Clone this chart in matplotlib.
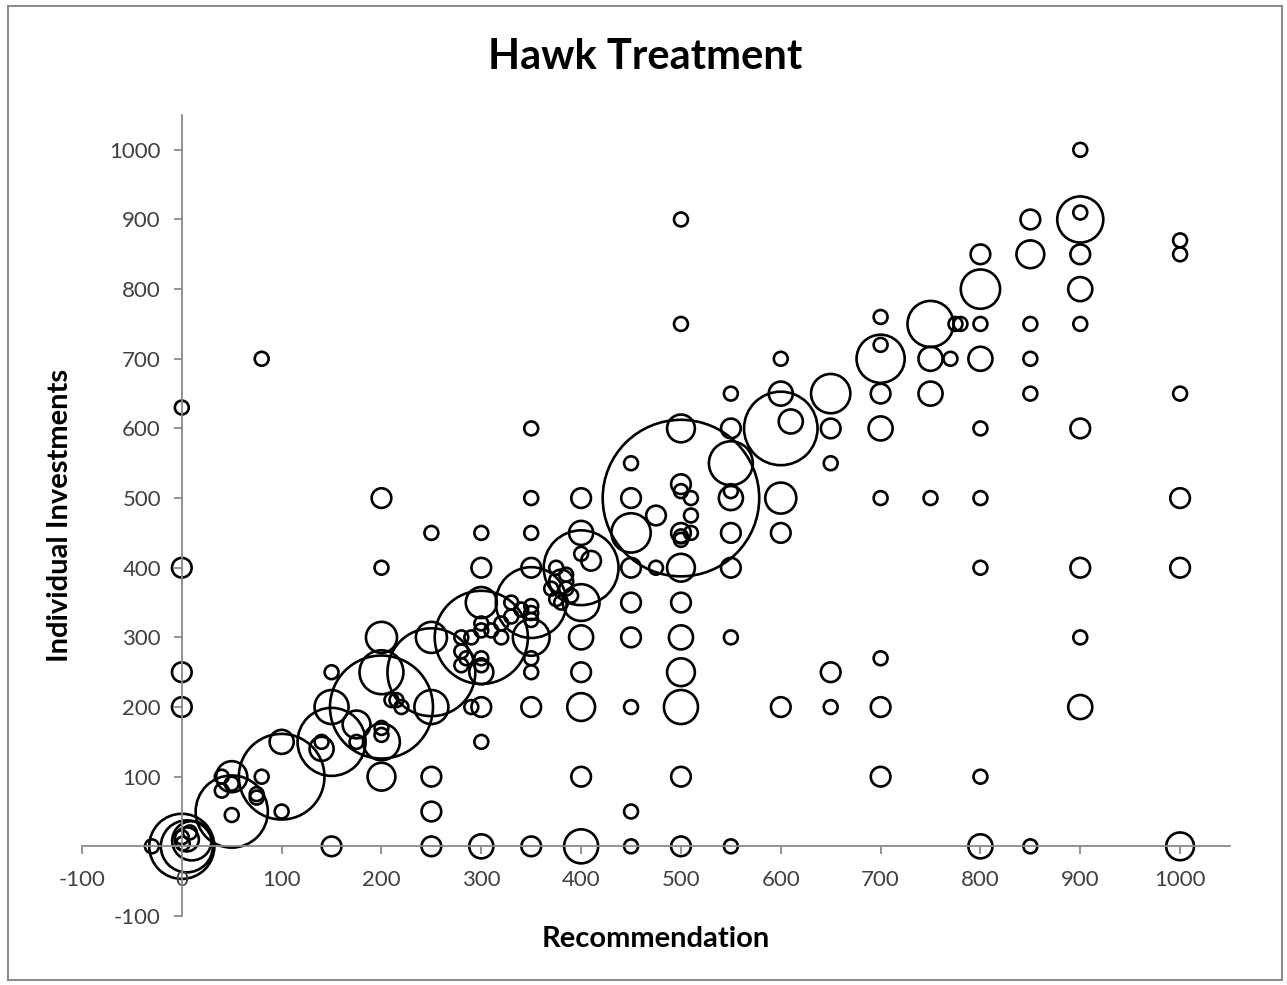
import matplotlib
matplotlib.use("Agg")
import matplotlib.pyplot as plt
from matplotlib.patches import Rectangle

# bubble data: recommendation (x), individual investment (y), bubble size (count)
recommendation = [
    -30,
    0, 0, 0, 0, 0, 5, 10, 8, 0, 1, 5,
    40, 40, 50, 50, 50, 50, 80, 75, 75, 100, 100, 100, 80,
    150, 140, 140, 150, 150, 150, 175, 175, 200, 200, 200, 200, 200, 200, 200, 200, 200, 210, 215, 220, 250,
    250, 250, 250, 250, 250, 250,
    280, 290, 280, 280, 285, 300, 300, 300, 300, 300, 300, 300, 300, 300, 290, 300, 300, 300,
    310, 320, 330, 330, 340, 320,
    350, 350, 350, 350, 350, 350, 350, 350, 350, 350, 350, 350, 350,
    380, 375, 370, 385, 380, 375, 390, 385,
    400, 400, 400, 410, 400, 400, 400, 400, 400, 400, 400,
    450, 450, 450, 450, 450, 450, 450, 450, 450, 475, 475,
    500, 500, 500, 500, 500, 510, 510, 500, 500, 510, 500, 500, 500, 500, 500, 500, 500, 500, 500,
    550, 550, 550, 550, 550, 550, 550, 550, 550,
    600, 600, 610, 600, 600, 600, 600,
    650, 650, 650, 650, 650,
    700, 700, 700, 700, 700, 700, 700, 700, 700,
    750, 775, 780, 750, 770, 750, 750,
    800, 800, 800, 800, 800, 800, 800, 800, 800,
    850, 850, 850, 850, 850, 850,
    900, 900, 900, 900, 900, 900, 900, 900, 900, 900,
    1000, 1000, 1000, 1000, 1000, 1000,
]
investment = [
    0,
    630, 400, 250, 200, 0, 0, 8, 20, 13, 4, 10,
    100, 80, 100, 90, 45, 50, 100, 75, 70, 50, 100, 150, 700,
    150, 150, 140, 200, 250, 0, 175, 150, 160, 170, 150, 100, 200, 250, 300, 400, 500, 210, 210, 200, 200,
    450, 300, 250, 100, 50, 0,
    300, 300, 280, 260, 270, 450, 400, 350, 320, 310, 300, 270, 260, 250, 200, 200, 150, 0,
    310, 320, 350, 330, 340, 300,
    600, 500, 450, 400, 350, 300, 345, 335, 325, 270, 250, 200, 0,
    380, 400, 370, 390, 350, 355, 360, 370,
    500, 450, 420, 410, 400, 350, 300, 250, 200, 100, 0,
    550, 500, 450, 400, 350, 300, 200, 50, 0, 475, 400,
    900, 750, 600, 520, 510, 500, 475, 450, 445, 450, 440, 500, 400, 350, 300, 250, 200, 100, 0,
    650, 600, 550, 500, 510, 450, 400, 300, 0,
    700, 650, 610, 600, 500, 450, 200,
    650, 600, 550, 250, 200,
    760, 720, 700, 650, 600, 500, 270, 200, 100,
    750, 750, 750, 700, 700, 650, 500,
    850, 800, 750, 700, 600, 500, 400, 100, 0,
    900, 850, 750, 700, 650, 0,
    1000, 910, 900, 850, 800, 750, 600, 400, 300, 200,
    870, 850, 650, 500, 400, 0,
]
bubble_size = [
    1,
    1, 2, 2, 2, 22, 14, 8, 1, 1, 1, 3,
    1, 1, 5, 1, 1, 27, 1, 1, 1, 1, 38, 3, 1,
    24, 1, 3, 6, 1, 2, 4, 1, 1, 1, 7, 4, 55, 10, 5, 1, 2, 1, 1, 1, 6,
    1, 5, 40, 2, 2, 2,
    1, 1, 1, 1, 1, 1, 2, 5, 1, 1, 45, 1, 1, 3, 1, 2, 1, 3,
    1, 1, 1, 1, 1, 1,
    1, 1, 1, 2, 26, 7, 1, 1, 1, 1, 1, 2, 2,
    3, 1, 1, 1, 1, 1, 1, 1,
    2, 3, 1, 2, 29, 7, 3, 2, 4, 2, 6,
    1, 2, 8, 2, 2, 2, 1, 1, 1, 2, 1,
    1, 1, 4, 2, 1, 1, 1, 2, 1, 1, 1, 127, 4, 2, 3, 4, 6, 2, 2,
    1, 2, 10, 3, 1, 2, 2, 1, 1,
    1, 3, 3, 28, 5, 2, 2,
    8, 2, 1, 2, 1,
    1, 1, 12, 2, 3, 1, 1, 2, 2,
    11, 1, 1, 3, 1, 3, 1,
    2, 8, 1, 3, 1, 1, 1, 1, 3,
    2, 4, 1, 1, 1, 1,
    1, 1, 11, 2, 3, 1, 2, 2, 1, 3,
    1, 1, 1, 2, 2, 4,
]

ticks = list(range(-100, 1001, 100))
x_tick_labels = [str(t) for t in ticks]
y_tick_labels = ["" if t == 0 else str(t) for t in ticks]

plt.rcParams['font.family'] = ['Lato', 'DejaVu Sans']

W, H = 1287, 985
fig = plt.figure(figsize=(W / 100, H / 100), dpi=100)
ax = fig.add_axes([82 / W, 69 / H, 1148 / W, 801 / H])

ax.scatter(recommendation, investment, s=[100 * n for n in bubble_size],
           facecolors='none', edgecolors='black', linewidths=1.9, clip_on=False)

ax.set_xlim(-100, 1050)
ax.set_ylim(-100, 1050)

axis_grey = '#8a8a8a'
for side in ['top', 'right']:
    ax.spines[side].set_visible(False)
ax.spines['left'].set_position(('data', 0))
ax.spines['bottom'].set_position(('data', 0))
for side in ['left', 'bottom']:
    ax.spines[side].set_color(axis_grey)
    ax.spines[side].set_linewidth(1.3)

ax.set_xticks(ticks)
ax.set_xticklabels(x_tick_labels)
ax.set_yticks(ticks)
ax.set_yticklabels(y_tick_labels)
ax.tick_params(axis='both', direction='out', length=6, width=1.3, color=axis_grey,
               labelsize=16, labelcolor='#404040')
ax.tick_params(axis='x', pad=11)
ax.tick_params(axis='y', pad=9)

ax.set_xlabel('Recommendation', fontsize=21, fontweight='bold')
ax.set_ylabel('Individual Investments', fontsize=21, fontweight='bold')
ax.xaxis.set_label_coords(0.5, -0.012)
ax.yaxis.set_label_coords(-0.008, 0.5)

fig.text(645 / W, 1 - 57 / H, 'Hawk Treatment', fontsize=30, fontweight='bold',
         ha='center', va='center')

fig.patches.append(Rectangle((8 / W, 5 / H), (1282 - 8) / W, (979 - 5) / H,
                             transform=fig.transFigure, fill=False,
                             edgecolor='#8c8c8c', linewidth=1.5))

fig.savefig('out.png', dpi=100)
